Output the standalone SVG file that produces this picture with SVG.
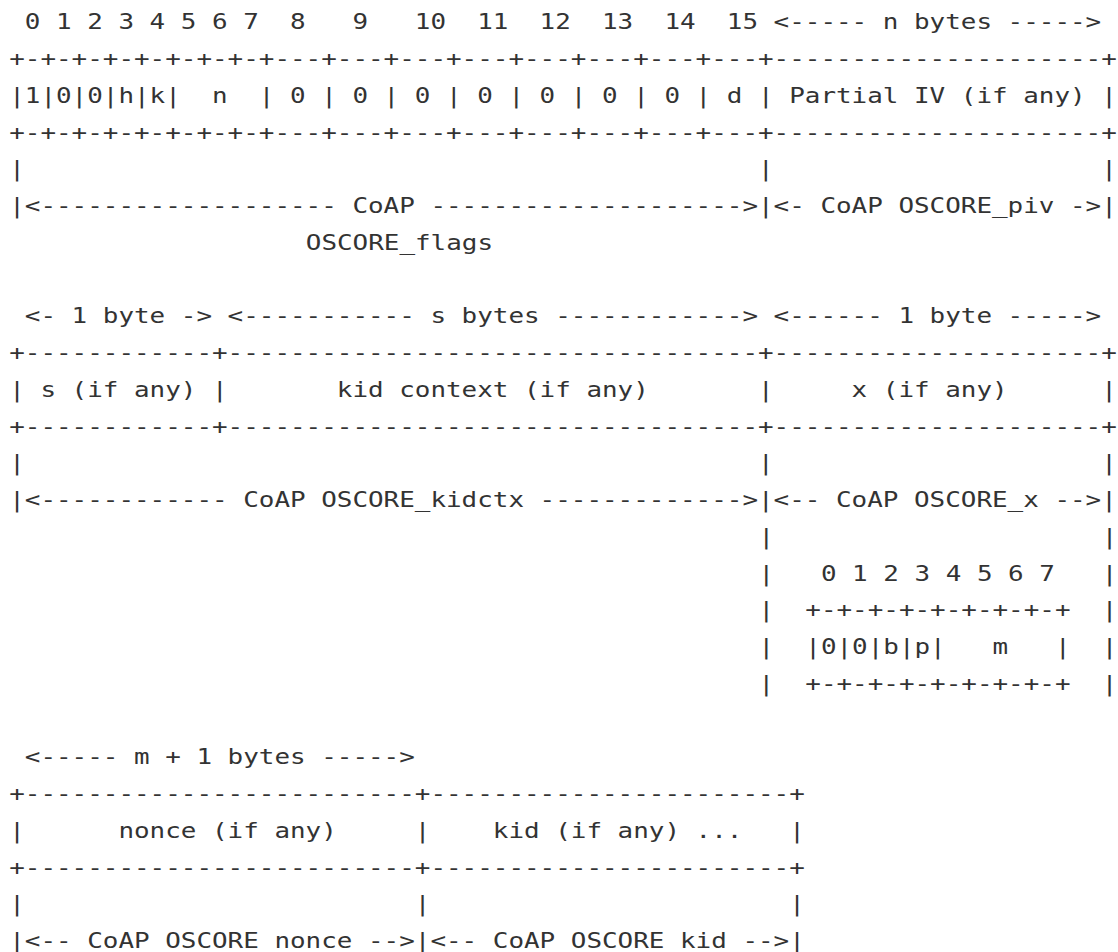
<svg xmlns="http://www.w3.org/2000/svg" width="1118" height="952" viewBox="0 0 1118 952" xml:space="preserve">
<style>
.t{font-family:"DejaVu Sans Mono","Liberation Mono",monospace;font-size:21px;fill:#333;white-space:pre}
</style>
<rect width="1118" height="952" fill="#fff"/>
<g transform="scale(1.2347 1)">
<g id="oscore-flags">
<text class="t" x="20.09" y="29.3">0 1 2 3 4 5 6 7  8   9   10  11  12  13  14  15 &lt;----- n bytes -----&gt;</text>
<text class="t" x="7.45" y="66.05">+-+-+-+-+-+-+-+-+---+---+---+---+---+---+---+---+---------------------+</text>
<text class="t" x="7.45" y="102.8">|1|0|0|h|k|  n  | 0 | 0 | 0 | 0 | 0 | 0 | 0 | d | Partial IV (if any) |</text>
<text class="t" x="7.45" y="139.55">+-+-+-+-+-+-+-+-+---+---+---+---+---+---+---+---+---------------------+</text>
<text class="t" x="7.45" y="176.3">|                                               |                     |</text>
<text class="t" x="7.45" y="213.05">|&lt;------------------- CoAP --------------------&gt;|&lt;- CoAP OSCORE_piv -&gt;|</text>
<text class="t" x="247.67" y="249.8">OSCORE_flags</text>
</g>
<g id="oscore-kidctx">
<text class="t" x="20.09" y="323.3">&lt;- 1 byte -&gt; &lt;----------- s bytes ------------&gt; &lt;------ 1 byte -----&gt;</text>
<text class="t" x="7.45" y="360.05">+------------+----------------------------------+---------------------+</text>
<text class="t" x="7.45" y="396.8">| s (if any) |       kid context (if any)       |     x (if any)      |</text>
<text class="t" x="7.45" y="433.55">+------------+----------------------------------+---------------------+</text>
<text class="t" x="7.45" y="470.3">|                                               |                     |</text>
<text class="t" x="7.45" y="507.05">|&lt;------------ CoAP OSCORE_kidctx -------------&gt;|&lt;-- CoAP OSCORE_x --&gt;|</text>
</g>
<g id="oscore-x">
<text class="t" x="614.31" y="543.8">|                     |</text>
<text class="t" x="614.31" y="580.55">|   0 1 2 3 4 5 6 7   |</text>
<text class="t" x="614.31" y="617.3">|  +-+-+-+-+-+-+-+-+  |</text>
<text class="t" x="614.31" y="654.05">|  |0|0|b|p|   m   |  |</text>
<text class="t" x="614.31" y="690.8">|  +-+-+-+-+-+-+-+-+  |</text>
</g>
<g id="oscore-nonce-kid">
<text class="t" x="20.09" y="764.3">&lt;----- m + 1 bytes -----&gt;</text>
<text class="t" x="7.45" y="801.05">+-------------------------+-----------------------+</text>
<text class="t" x="7.45" y="837.8">|      nonce (if any)     |    kid (if any) ...   |</text>
<text class="t" x="7.45" y="874.55">+-------------------------+-----------------------+</text>
<text class="t" x="7.45" y="911.3">|                         |                       |</text>
<text class="t" x="7.45" y="948.05">|&lt;-- CoAP OSCORE_nonce --&gt;|&lt;-- CoAP OSCORE_kid --&gt;|</text>
</g>
</g>
</svg>
